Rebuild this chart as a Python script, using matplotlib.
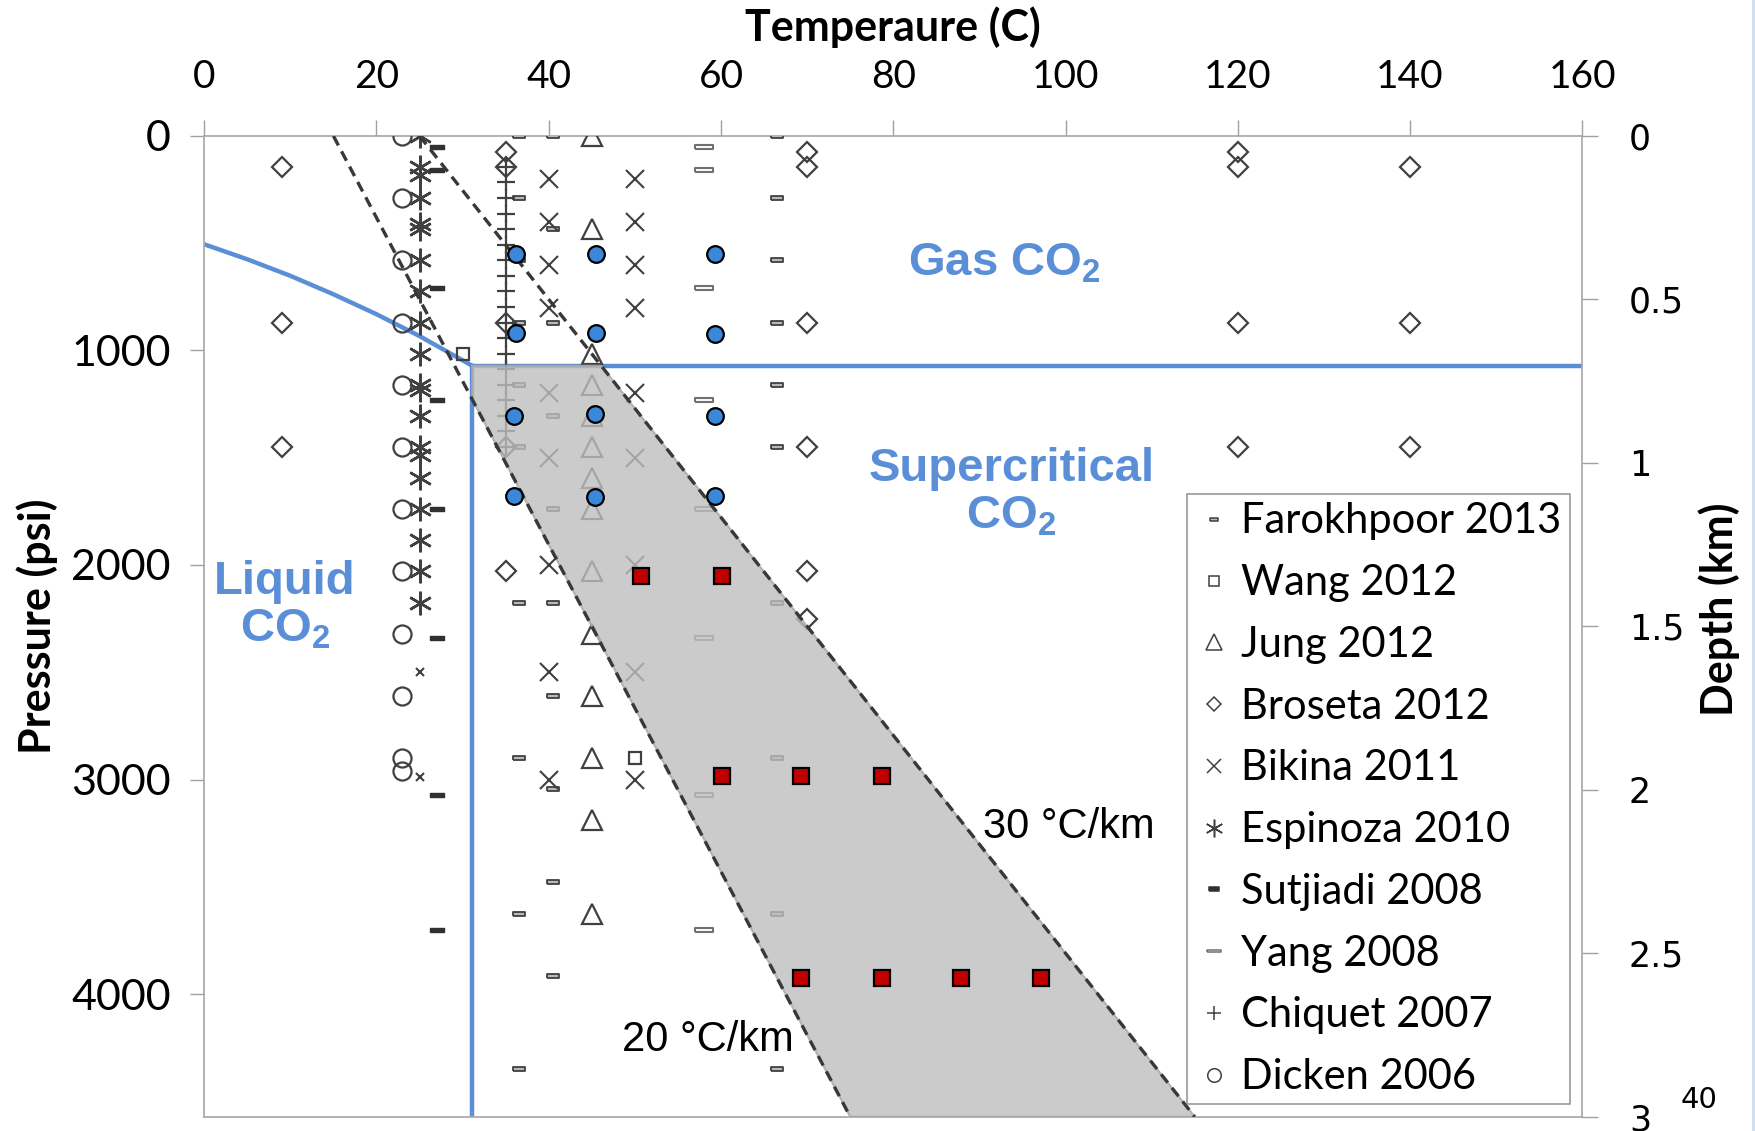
import matplotlib.pyplot as plt
from matplotlib.lines import Line2D
from matplotlib.patches import Polygon, Rectangle

plt.rcParams['font.family'] = ['Lato', 'DejaVu Sans']
plt.rcParams['mathtext.fontset'] = 'custom'
plt.rcParams['mathtext.rm'] = 'Liberation Sans'
plt.rcParams['mathtext.bf'] = 'Liberation Sans:bold'

# ---- CO2 phase diagram ----
sat_T = [0, 5, 10, 15, 20, 25, 30, 31.1]
sat_P = [505, 575, 652, 738, 831, 933, 1046, 1071]
crit_T = 31.1
crit_P = 1071

psi_per_km = 1524      # right axis: 3 km at the bottom
p_bottom = 4572
t_max = 160

# geothermal gradients: (surface temperature C, gradient C/km)
grad_20 = (15, 20)
grad_30 = (25, 30)
grad_depth = [0, 3]

# ---- literature data (temperature C, pressure psi) ----
farokhpoor_T = [36.5, 40.5, 66.5]
farokhpoor_P = [[0, 290, 580, 870, 1160, 1450, 2175, 2900, 3625, 4350],
                [0, 435, 870, 1305, 1740, 2175, 2610, 3045, 3480, 3915],
                [0, 290, 580, 870, 1160, 1450, 2175, 2900, 3625, 4350]]

wang_T = [30, 50]
wang_P = [1015, 2900]

jung_T = [45]
jung_P = [[0, 435, 1015, 1160, 1305, 1450, 1595, 1740, 2030, 2320, 2610, 2900, 3190, 3625]]

broseta_T = [9, 35, 70, 120, 140]
broseta_P = [[145, 870, 1450],
             [73, 145, 870, 1450, 2030],
             [73, 145, 870, 1450, 2030, 2250],
             [73, 145, 870, 1450],
             [145, 870, 1450]]

bikina_T = [40, 50]
bikina_P = [[200, 400, 600, 800, 1200, 1500, 2000, 2500, 3000],
            [200, 400, 600, 800, 1200, 1500, 2000, 2500, 3000]]

espinoza_T = [25]
espinoza_P = [[0, 145, 180, 290, 410, 435, 580, 725, 870, 1015, 1160, 1185,
               1305, 1450, 1485, 1595, 1740, 1885, 2030, 2175]]
espinoza_small_T = [25, 25]
espinoza_small_P = [2500, 2990]

sutjiadi_T = [27]
sutjiadi_P = [[50, 160, 710, 1230, 1740, 2340, 3070, 3700]]

yang_T = [58]
yang_P = [[50, 160, 710, 1230, 1740, 2340, 3070, 3700]]

chiquet_T = [35]
chiquet_P = [[145, 217, 290, 362, 435, 507, 580, 652, 725, 797, 870, 942,
              1015, 1087, 1160, 1232, 1305, 1377, 1450]]

dicken_T = [23]
dicken_P = [[0, 290, 580, 870, 1160, 1450, 1740, 2030, 2320, 2610, 2900, 2960]]

# this work
gas_T = [36.2, 45.5, 59.3, 36.2, 45.5, 59.3, 36.0, 45.4, 59.3, 36.0, 45.4, 59.3]
gas_P = [550, 550, 550, 920, 920, 925, 1305, 1295, 1305, 1680, 1685, 1680]
sc_T = [50.7, 60.1, 60.1, 69.3, 78.7, 69.3, 78.7, 87.9, 97.2]
sc_P = [2050, 2050, 2985, 2985, 2985, 3925, 3925, 3925, 3925]

labels = ['Farokhpoor 2013', 'Wang 2012', 'Jung 2012', 'Broseta 2012', 'Bikina 2011',
          'Espinoza 2010', 'Sutjiadi 2008', 'Yang 2008', 'Chiquet 2007', 'Dicken 2006']

blue = '#5A8FD8'
dark = '#404040'


def rect(h):
    return [(-1, -h), (1, -h), (1, h), (-1, h), (-1, -h)]


styles = {
    'Farokhpoor 2013': dict(marker=rect(0.36), ms=8, mfc='#b8b8b8', mec=dark, mew=1.3),
    'Wang 2012': dict(marker='s', ms=9, mfc='none', mec=dark, mew=1.6),
    'Jung 2012': dict(marker='^', ms=15, mfc='none', mec=dark, mew=1.6),
    'Broseta 2012': dict(marker='D', ms=10, mfc='none', mec=dark, mew=1.6),
    'Bikina 2011': dict(marker='x', ms=13, mfc='none', mec=dark, mew=1.5),
    'Espinoza 2010': dict(marker=(6, 2, 0), ms=17, mfc='none', mec=dark, mew=1.8),
    'Sutjiadi 2008': dict(marker=rect(0.3), ms=10, mfc='#303030', mec='#303030', mew=1),
    'Yang 2008': dict(marker=rect(0.2), ms=13.5, mfc='white', mec='#707070', mew=1.5),
    'Chiquet 2007': dict(marker='+', ms=13, mfc='none', mec=dark, mew=1.6),
    'Dicken 2006': dict(marker='o', ms=13, mfc='none', mec=dark, mew=1.6),
}

series = {
    'Farokhpoor 2013': (farokhpoor_T, farokhpoor_P),
    'Jung 2012': (jung_T, jung_P),
    'Broseta 2012': (broseta_T, broseta_P),
    'Bikina 2011': (bikina_T, bikina_P),
    'Espinoza 2010': (espinoza_T, espinoza_P),
    'Sutjiadi 2008': (sutjiadi_T, sutjiadi_P),
    'Yang 2008': (yang_T, yang_P),
    'Chiquet 2007': (chiquet_T, chiquet_P),
    'Dicken 2006': (dicken_T, dicken_P),
}

fig = plt.figure(figsize=(17.56, 11.31), dpi=100)
ax = fig.add_axes([0.1163, 0.0126, 0.7848, 0.8672])

# phase boundaries
ax.plot(sat_T, sat_P, color=blue, lw=3.2, zorder=2, solid_capstyle='butt')
ax.plot([crit_T, t_max], [crit_P, crit_P], color=blue, lw=3.2, zorder=2)
ax.plot([crit_T, crit_T], [crit_P, p_bottom], color=blue, lw=3.2, zorder=2)

# literature points
for name, (temps, pres) in series.items():
    for t, plist in zip(temps, pres):
        ax.plot([t] * len(plist), plist, ls='none', zorder=3, **styles[name])
ax.plot(wang_T, wang_P, ls='none', zorder=3, **styles['Wang 2012'])
ax.plot(espinoza_small_T, espinoza_small_P, ls='none', marker='x', ms=6,
        mec=dark, mew=1.5, zorder=3)

# gradient lines and the window between them
g20_T = [grad_20[0] + grad_20[1] * d for d in grad_depth]
g30_T = [grad_30[0] + grad_30[1] * d for d in grad_depth]
g_P = [d * psi_per_km for d in grad_depth]

t30_crit = grad_30[0] + grad_30[1] * crit_P / psi_per_km
p20_crit = (crit_T - grad_20[0]) / grad_20[1] * psi_per_km
window = Polygon([(crit_T, crit_P), (t30_crit, crit_P), (g30_T[1], p_bottom),
                  (g20_T[1], p_bottom), (crit_T, p20_crit)],
                 closed=True, facecolor='#bfbfbf', edgecolor='#a6a6a6', lw=1.5,
                 alpha=0.8, zorder=4)
ax.add_patch(window)

for gt in (g20_T, g30_T):
    ax.plot(gt, g_P, color='#383838', lw=2.4, dashes=(3.2, 2), zorder=5)

ax.plot(gas_T, gas_P, ls='none', marker='o', ms=12, mfc='#3B87D9', mec='black',
        mew=1.6, zorder=6)
ax.plot(sc_T, sc_P, ls='none', marker='s', ms=11, mfc='#C00000', mec='black',
        mew=1.6, zorder=6)

# region labels
txt_kw = dict(color=blue, fontsize=34, fontweight='bold', family='Liberation Sans',
              ha='center', va='center', zorder=7, linespacing=1.1)
ax.text(92.9, 596, 'Gas CO$_\\mathbf{2}$', **txt_kw)
ax.text(93.7, 1665, 'Supercritical\nCO$_\\mathbf{2}$', **txt_kw)
ax.text(9.4, 2190, 'Liquid\nCO$_\\mathbf{2}$', **txt_kw)

ax.text(100.4, 3221, '30 °C/km', fontsize=30, family='Liberation Sans',
        ha='center', va='center', zorder=7)
ax.text(58.5, 4214, '20 °C/km', fontsize=30, family='Liberation Sans',
        ha='center', va='center', zorder=7)

# axes
ax.set_xlim(0, t_max)
ax.set_ylim(p_bottom, 0)
ax.xaxis.tick_top()
ax.set_xticks(range(0, 161, 20))
ax.set_yticks([0, 1000, 2000, 3000, 4000])
ax.tick_params(axis='x', length=11.5, width=1, color='#a0a0a0', pad=18, labelsize=28)
ax.tick_params(axis='y', length=10, width=1, color='#a0a0a0', pad=14, labelsize=31)
for sp in ax.spines.values():
    sp.set_color('#a6a6a6')
    sp.set_linewidth(1.2)

ax.xaxis.set_label_position('top')
ax.set_xlabel('Temperaure (C)', fontsize=31, fontweight='bold')
ax.xaxis.set_label_coords(0.5, 1.111)
ax.xaxis.label.set_va('center')
ax.set_ylabel('Pressure (psi)', fontsize=31, fontweight='bold')
ax.yaxis.set_label_coords(-0.121, 0.5)
ax.yaxis.label.set_va('center')

ax2 = ax.twinx()
ax2.set_ylim(p_bottom / psi_per_km, 0)
ax2.set_yticks([0, 0.5, 1, 1.5, 2, 2.5, 3])
ax2.set_yticklabels(['0', '0.5', '1', '1.5', '2', '2.5', '3'], family='DejaVu Sans')
ax2.tick_params(axis='y', length=11.5, width=1, color='#a0a0a0', pad=22, labelsize=25)
for sp in ax2.spines.values():
    sp.set_visible(False)
ax2.set_ylabel('Depth (km)', fontsize=31, fontweight='bold')
ax2.yaxis.set_label_coords(1.099, 0.517)
ax2.yaxis.label.set_va('center')

# legend
handles = []
for name in labels:
    st = dict(styles[name])
    st['ms'] = st['ms'] * 0.75
    st['mew'] = 1.1
    handles.append(Line2D([], [], ls='none', **st))
leg = ax2.legend(handles, labels, loc='upper left', bbox_to_anchor=(0.676, 0.5632),
                 bbox_transform=fig.transFigure, fontsize=30, frameon=True,
                 fancybox=False, edgecolor='#808080', borderaxespad=0,
                 borderpad=0.2, labelspacing=0.57, handletextpad=0.2,
                 handlelength=0.9)
leg.get_frame().set_linewidth(1.2)
leg.set_zorder(10)

fig.text(1699 / 1756, 1 - 1100 / 1131, '40', family='DejaVu Sans', fontsize=21,
         ha='center', va='center')
fig.patches.append(Rectangle((0.9975, 0), 0.0025, 1, transform=fig.transFigure,
                             facecolor='#cfe0f5', edgecolor='none'))

fig.savefig('out.png', dpi=100)
